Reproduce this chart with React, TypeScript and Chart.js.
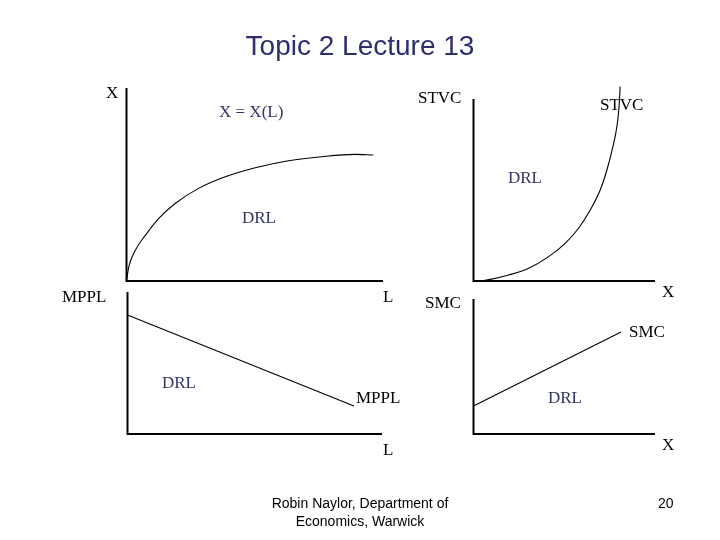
import React, { useEffect, useRef } from "react";
import { Chart, registerables } from "chart.js";

Chart.register(...registerables);

// ---- data (axis units 0..100 on every panel) ----
const prodL = [0, 0.9, 3.5, 7.4, 12.6, 19.1, 28.1, 38.5, 50.2, 63.2, 76.1, 89.1, 96.2];
const prodX = [0, 7.4, 16.1, 23.8, 32.5, 40.3, 48.0, 54.0, 58.7, 62.3, 64.4, 65.6, 65.3];

const costX = [3.8, 9.3, 19.4, 30.4, 41.4, 50.5, 57.9, 64.3, 69.8, 73.5, 76.8, 79.0, 80.2, 80.8];
const costSTVC = [0, 0.9, 3.3, 7.0, 13.4, 20.7, 29.0, 39.0, 50.0, 61.0, 73.8, 84.8, 95.8, 106.8];

const mpplL = [0, 89];
const mpplVal = [83.8, 19.7];

const smcX = [0, 81.3];
const smcVal = [20.7, 75.6];

const axisMin = 0;
const axisMax = 100;

const NAVY = "#333366";
const SERIF = "17px 'Liberation Serif', 'Times New Roman', serif";
const SANS = "'Liberation Sans', Arial, sans-serif";

type Label = { text: string; x: number; y: number; color?: string; font?: string; align?: CanvasTextAlign };
type Panel = {
  xs: number[];
  ys: number[];
  area: { left: number; top: number; right: number; bottom: number };
  labels: Label[];
};

const slideLabels: Label[] = [
  { text: "Topic 2 Lecture 13", x: 360, y: 55, color: "#2E2E6E", font: `28px ${SANS}`, align: "center" },
  { text: "Robin Naylor, Department of", x: 360, y: 508, color: "#000", font: `14px ${SANS}`, align: "center" },
  { text: "Economics, Warwick", x: 360, y: 526, color: "#000", font: `14px ${SANS}`, align: "center" },
  { text: "20", x: 658, y: 508, color: "#000", font: `14px ${SANS}` },
];

const panels: Panel[] = [
  {
    xs: prodL,
    ys: prodX,
    area: { left: 126.5, top: 88, right: 383, bottom: 281 },
    labels: [
      { text: "X", x: 106, y: 98 },
      { text: "X = X(L)", x: 219, y: 117, color: NAVY },
      { text: "DRL", x: 242, y: 223, color: NAVY },
      { text: "L", x: 383, y: 302 },
    ],
  },
  {
    xs: costX,
    ys: costSTVC,
    area: { left: 473.5, top: 99, right: 655, bottom: 281 },
    labels: [
      { text: "STVC", x: 418, y: 103 },
      { text: "STVC", x: 600, y: 110 },
      { text: "DRL", x: 508, y: 183, color: NAVY },
      { text: "X", x: 662, y: 297 },
    ],
  },
  {
    xs: mpplL,
    ys: mpplVal,
    area: { left: 127.5, top: 292, right: 382, bottom: 434 },
    labels: [
      { text: "MPPL", x: 62, y: 302 },
      { text: "DRL", x: 162, y: 388, color: NAVY },
      { text: "MPPL", x: 356, y: 403 },
      { text: "L", x: 383, y: 455 },
    ],
  },
  {
    xs: smcX,
    ys: smcVal,
    area: { left: 473.5, top: 299, right: 655, bottom: 434 },
    labels: [
      { text: "SMC", x: 425, y: 308 },
      { text: "SMC", x: 629, y: 337 },
      { text: "DRL", x: 548, y: 403, color: NAVY },
      { text: "X", x: 662, y: 450 },
    ],
  },
];

const W = 720;
const H = 540;

const axesPlugin = {
  id: "axesPlugin",
  beforeDatasetsDraw(chart: any) {
    const { ctx, scales } = chart;
    const x0 = scales.x.getPixelForValue(axisMin);
    const x1 = scales.x.getPixelForValue(axisMax);
    const y0 = scales.y.getPixelForValue(axisMin);
    const y1 = scales.y.getPixelForValue(axisMax);
    ctx.save();
    ctx.strokeStyle = "#000";
    ctx.lineWidth = 2;
    ctx.lineCap = "butt";
    ctx.beginPath();
    ctx.moveTo(x0, y1);
    ctx.lineTo(x0, y0 + 1);
    ctx.moveTo(x0 - 1, y0);
    ctx.lineTo(x1, y0);
    ctx.stroke();
    ctx.restore();
  },
};

const labelsPlugin = {
  id: "labelsPlugin",
  afterDraw(chart: any, _args: any, opts: any) {
    const { ctx } = chart;
    const list: Label[] = opts.labels || [];
    ctx.save();
    ctx.textBaseline = "alphabetic";
    for (const l of list) {
      ctx.font = l.font || SERIF;
      ctx.fillStyle = l.color || "#000";
      ctx.textAlign = l.align || "left";
      ctx.fillText(l.text, l.x, l.y);
    }
    ctx.restore();
  },
};

function PanelChart({ panel, extra }: { panel: Panel; extra?: Label[] }) {
  const ref = useRef<HTMLCanvasElement | null>(null);
  useEffect(() => {
    if (!ref.current) return;
    const a = panel.area;
    const chart = new Chart(ref.current, {
      type: "line",
      data: {
        datasets: [
          {
            data: panel.xs.map((x, i) => ({ x, y: panel.ys[i] })),
            borderColor: "#000",
            borderWidth: 1.1,
            pointRadius: 0,
            fill: false,
            cubicInterpolationMode: "monotone",
            clip: false as any,
          } as any,
        ],
      },
      options: {
        responsive: false,
        animation: false,
        devicePixelRatio: 1,
        layout: { padding: { left: a.left, top: a.top, right: W - a.right, bottom: H - a.bottom } },
        scales: {
          x: { type: "linear", min: axisMin, max: axisMax, display: false },
          y: { type: "linear", min: axisMin, max: axisMax, display: false },
        },
        plugins: {
          legend: { display: false },
          tooltip: { enabled: false },
          labelsPlugin: { labels: [...panel.labels, ...(extra || [])] },
        } as any,
      },
      plugins: [axesPlugin, labelsPlugin],
    });
    return () => chart.destroy();
  }, [panel, extra]);
  return (
    <canvas
      ref={ref}
      width={W}
      height={H}
      style={{ position: "absolute", left: 0, top: 0, width: W, height: H }}
    />
  );
}

export default function App() {
  return (
    <div style={{ position: "fixed", left: 0, top: 0, width: W, height: H, background: "#fff", overflow: "hidden" }}>
      {panels.map((p, i) => (
        <PanelChart key={i} panel={p} extra={i === 0 ? slideLabels : undefined} />
      ))}
    </div>
  );
}
